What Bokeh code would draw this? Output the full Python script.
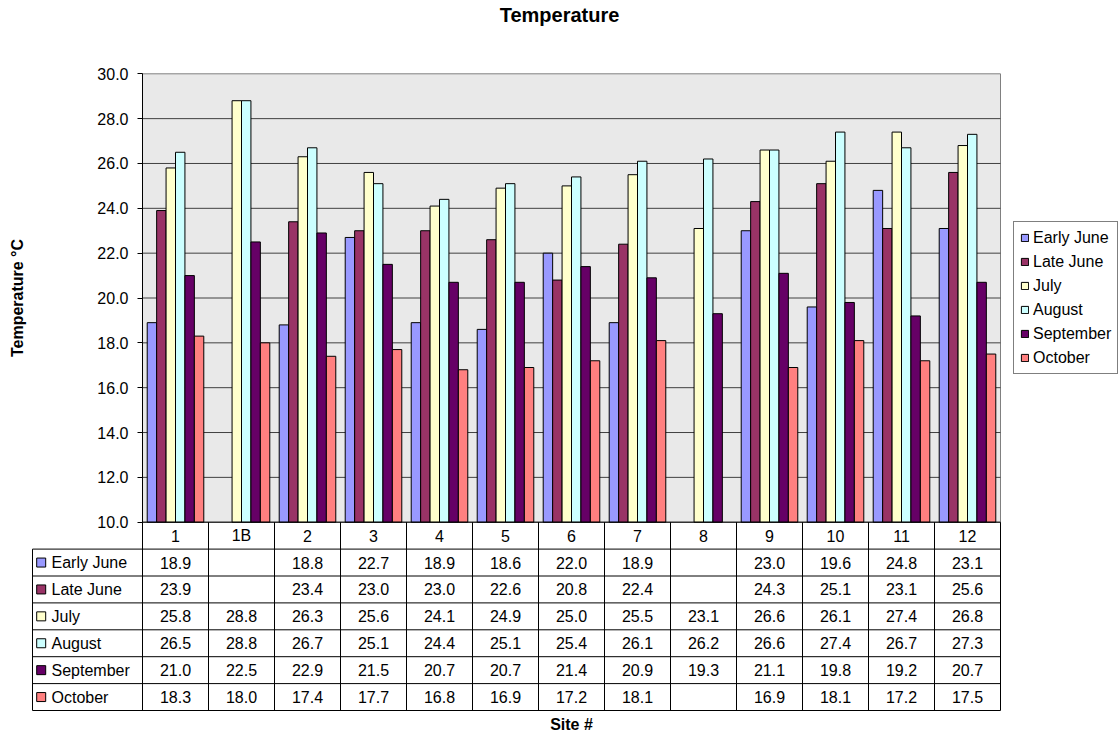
from bokeh.plotting import figure
from bokeh.models import (ColumnDataSource, FixedTicker, PrintfTickFormatter,
                          Legend, LegendItem, Range1d, LinearAxis, Grid)
from bokeh.embed import file_html
from bokeh.resources import INLINE
from bokeh.core.properties import value

# ---------------- data ----------------
sites = ["1", "1B", "2", "3", "4", "5", "6", "7", "8", "9", "10", "11", "12"]
series_names = ["Early June", "Late June", "July", "August", "September", "October"]
early_june = [18.9, None, 18.8, 22.7, 18.9, 18.6, 22.0, 18.9, None, 23.0, 19.6, 24.8, 23.1]
late_june = [23.9, None, 23.4, 23.0, 23.0, 22.6, 20.8, 22.4, None, 24.3, 25.1, 23.1, 25.6]
july = [25.8, 28.8, 26.3, 25.6, 24.1, 24.9, 25.0, 25.5, 23.1, 26.6, 26.1, 27.4, 26.8]
august = [26.5, 28.8, 26.7, 25.1, 24.4, 25.1, 25.4, 26.1, 26.2, 26.6, 27.4, 26.7, 27.3]
september = [21.0, 22.5, 22.9, 21.5, 20.7, 20.7, 21.4, 20.9, 19.3, 21.1, 19.8, 19.2, 20.7]
october = [18.3, 18.0, 17.4, 17.7, 16.8, 16.9, 17.2, 18.1, None, 16.9, 18.1, 17.2, 17.5]
y_ticks = [10, 12, 14, 16, 18, 20, 22, 24, 26, 28, 30]

series_values = [early_june, late_june, july, august, september, october]
colors = ["#9999FF", "#993366", "#FFFFCC", "#CCFFFF", "#660066", "#FF8080"]

FONT = "Liberation Sans"
n = len(sites)
m = len(series_names)
Y0, Y1 = y_ticks[0], y_ticks[-1]

# ---------------- layout constants (page pixels) ----------------
PAGE = 0
CANVAS_W, CANVAS_H = 1119, 736
COL_PX = 66.0           # width of one site column
PLOT_L = 142.0          # left edge of the plot area
PLOT_T = 73.3           # top of plot area (30.0)
PLOT_B = 521.7          # bottom of plot area (10.0)
ROW_PX = 26.9           # table row height
PXY = (PLOT_B - PLOT_T) / (Y1 - Y0)


def xd(px):
    return (px - PLOT_L) / COL_PX


def yd(py):
    return Y0 + (PLOT_B - py) / PXY


def rd(py):
    return (m + 1) + (PLOT_B - py) / ROW_PX


p = figure(width=CANVAS_W, height=CANVAS_H,
           x_range=Range1d(xd(PAGE), xd(PAGE + CANVAS_W)),
           y_range=Range1d(yd(PAGE + CANVAS_H), yd(PAGE)),
           x_axis_location=None, y_axis_location=None,
           min_border=0, outline_line_color=None,
           background_fill_color="white", border_fill_color="white",
           output_backend="svg", toolbar_location=None)
p.extra_y_ranges = {"table": Range1d(rd(PAGE + CANVAS_H), rd(PAGE))}
for g in p.select(type=Grid):
    g.visible = False

# plot area background and border
p.quad(left=[0], right=[n], bottom=[Y0], top=[Y1],
       fill_color="#E9E9E9", line_color="#808080", line_width=1)
# grid lines
grid_vals = y_ticks[1:-1]
p.segment(x0=[0] * len(grid_vals), x1=[n] * len(grid_vals),
          y0=grid_vals, y1=grid_vals, line_color="#404040", line_width=1)

# bars
bar_w = 1.0 / (m + 1)
items = []
for k, (name, vals, col) in enumerate(zip(series_names, series_values, colors)):
    xs = [i + 0.5 + (k - (m - 1) / 2) * bar_w for i, v in enumerate(vals) if v is not None]
    tops = [v for v in vals if v is not None]
    src = ColumnDataSource(dict(x=xs, top=tops))
    r = p.vbar(x="x", top="top", bottom=Y0, width=bar_w, source=src,
               fill_color=col, line_color="black", line_width=1)
    items.append(LegendItem(label=name, renderers=[r]))

# y axis placed at the left edge of the plot area
yax = LinearAxis(fixed_location=0, bounds=(Y0, Y1),
                 ticker=FixedTicker(ticks=y_ticks),
                 formatter=PrintfTickFormatter(format="%.1f"))
yax.major_label_text_font = FONT
yax.major_label_text_font_size = "16px"
yax.major_label_text_color = "black"
yax.axis_line_color = "black"
yax.major_tick_line_color = "black"
yax.major_tick_out = 5
yax.major_tick_in = 0
yax.minor_tick_line_color = None
yax.major_label_standoff = 9
yax.axis_label = "Temperature °C"
yax.axis_label_text_font = FONT
yax.axis_label_text_font_style = "bold"
yax.axis_label_text_font_size = "16px"
yax.axis_label_text_color = "black"
yax.axis_label_standoff = 68
p.add_layout(yax, "left")

# title
p.text(x=[xd(559)], y=[yd(14)], text=["Temperature"],
       text_font=value(FONT), text_font_size=value("20px"), text_font_style="bold",
       text_color="black", text_align="center", text_baseline="middle")

# legend
legend = Legend(items=items, location=(1013 - PAGE, PAGE + CANVAS_H - 374),
                border_line_color="black", border_line_width=1,
                background_fill_color="white", background_fill_alpha=1,
                label_text_font=FONT, label_text_font_size="16px",
                label_text_color="black",
                glyph_width=9, glyph_height=9, label_height=19,
                label_standoff=4, spacing=5, padding=6, margin=0)
p.add_layout(legend)

# ---------------- data table ----------------
x_left = xd(32)
hx0 = [0] + [x_left] * (m + 1)
hx1 = [n] * (m + 2)
hy = [m + 1 - j for j in range(m + 2)]
p.segment(x0=hx0, y0=hy, x1=hx1, y1=hy, line_color="black", line_width=1,
          y_range_name="table")
vx = list(range(n + 1)) + [x_left]
vy0 = [0] * (n + 2)
vy1 = [m + 1] * (n + 1) + [m]
p.segment(x0=vx, y0=vy0, x1=vx, y1=vy1, line_color="black", line_width=1,
          y_range_name="table")

p.text(x=[i + 0.5 for i in range(n)], y=[m + 0.5] * n, text=sites,
       text_font=value(FONT), text_font_size=value("16px"), text_color="black",
       text_align="center", text_baseline="middle", y_range_name="table")

for k, vals in enumerate(series_values):
    yk = m - k - 0.5
    p.text(x=[i + 0.5 for i in range(n)], y=[yk] * n,
           text=["" if v is None else "%.1f" % v for v in vals],
           text_font=value(FONT), text_font_size=value("16px"), text_color="black",
           text_align="center", text_baseline="middle", y_range_name="table")

row_y = [m - k - 0.5 for k in range(m)]
p.scatter(x=[xd(40.7)] * m, y=row_y, marker="square", size=9,
          fill_color=colors, line_color="black", line_width=1, y_range_name="table")
p.text(x=[xd(51)] * m, y=row_y, text=series_names,
       text_font=value(FONT), text_font_size=value("16px"), text_color="black",
       text_align="left", text_baseline="middle", y_range_name="table")

# x axis title
p.text(x=[n / 2], y=[rd(724)], text=["Site #"],
       text_font=value(FONT), text_font_size=value("16px"), text_font_style="bold",
       text_color="black", text_align="center", text_baseline="middle",
       y_range_name="table")

open("out.html", "w").write(file_html(p, INLINE))
